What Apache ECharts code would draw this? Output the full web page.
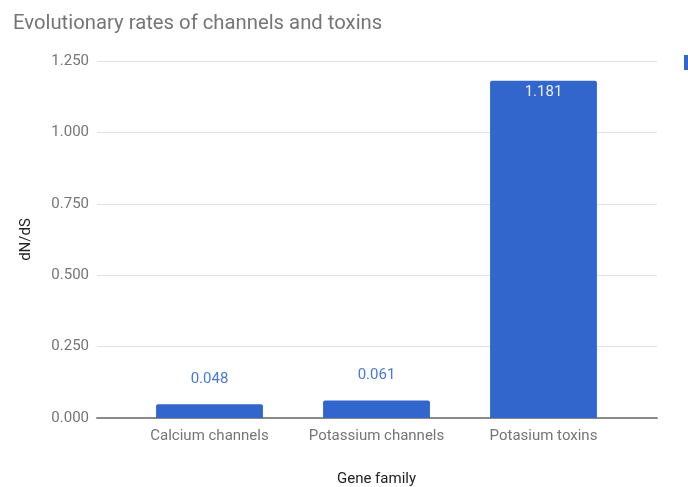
<!DOCTYPE html>
<html>
<head>
<meta charset="utf-8">
<script src="https://cdn.jsdelivr.net/npm/echarts@6/dist/echarts.min.js"></script>
<style>
  html, body { margin: 0; padding: 0; background: #fff; }
  #chart { width: 688px; height: 487px; }
</style>
</head>
<body>
<div id="chart"></div>
<script>
// data
const categories = ['Calcium channels', 'Potassium channels', 'Potasium toxins']
const values = [0.048, 0.061, 1.181]
const yTicks = [0, 0.25, 0.5, 0.75, 1.0, 1.25]

const grey = '#757575'
const barColor = '#3366cc'
const font = 'Roboto'

const chart = echarts.init(document.getElementById('chart'))

const option = {
  animation: false,
  textStyle: { fontFamily: font },
  title: {
    text: 'Evolutionary rates of channels and toxins',
    left: 8,
    top: 9,
    textStyle: { color: grey, fontSize: 20.3, fontWeight: 'normal', fontFamily: font }
  },
  legend: {
    orient: 'vertical',
    left: 684,
    top: 55,
    padding: 0,
    itemWidth: 14,
    itemHeight: 15,
    icon: 'rect',
    data: ['dN/dS'],
    textStyle: { color: grey, fontSize: 15 }
  },
  grid: [
    // wide grid: gridlines + baseline
    { left: 97, right: 31, top: 61, bottom: 69, outerBoundsMode: 'none' },
    // narrow grid: bars
    { left: 126, right: 61, top: 61, bottom: 69, outerBoundsMode: 'none' }
  ],
  xAxis: [
    {
      gridIndex: 0,
      type: 'value',
      min: 0,
      max: 1,
      axisLine: { show: true, onZero: false, lineStyle: { color: '#8a8a8a', width: 2 } },
      axisTick: { show: false },
      axisLabel: { show: false },
      splitLine: { show: false }
    },
    {
      gridIndex: 1,
      type: 'category',
      data: categories,
      axisLine: { show: false },
      axisTick: { show: false },
      axisLabel: { color: grey, fontSize: 15, margin: 11, interval: 0, hideOverlap: false },
      name: 'Gene family',
      nameLocation: 'middle',
      nameGap: 54,
      nameTextStyle: { color: '#222', fontSize: 15 }
    }
  ],
  yAxis: [
    {
      gridIndex: 0,
      type: 'value',
      min: 0,
      max: 1.25,
      interval: 0.25,
      axisLine: { show: false },
      axisTick: { show: false },
      axisLabel: {
        color: grey,
        fontSize: 15,
        margin: 8,
        formatter: v => v.toFixed(3)
      },
      splitLine: { lineStyle: { color: '#e0e0e0', width: 1 } },
      name: 'dN/dS',
      nameLocation: 'middle',
      nameGap: 63,
      nameTextStyle: { color: '#222', fontSize: 15 }
    },
    {
      gridIndex: 1,
      type: 'value',
      min: 0,
      max: 1.25,
      interval: 0.25,
      show: false
    }
  ],
  series: [
    {
      name: 'dN/dS',
      type: 'bar',
      xAxisIndex: 1,
      yAxisIndex: 1,
      barWidth: '64%',
      itemStyle: { color: barColor, borderRadius: [2, 2, 0, 0] },
      data: values.map(v => ({
        value: v,
        label: v > 0.5
          ? { position: 'insideTop', color: '#e8eefa', distance: 4 }
          : { position: 'top', color: '#4a78d8', distance: 18 }
      })),
      label: {
        show: true,
        fontSize: 15,
        formatter: p => p.value.toFixed(3)
      }
    }
  ]
}

chart.setOption(option)
</script>
</body>
</html>
